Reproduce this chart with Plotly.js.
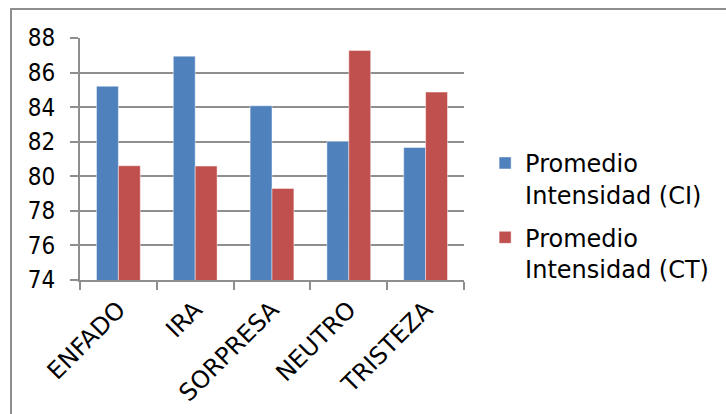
<!DOCTYPE html>
<html>
<head>
<meta charset="utf-8">
<script src="https://cdn.plot.ly/plotly-3.0.1.min.js"></script>
<style>
html,body{margin:0;padding:0;background:#fff;}
#wrap{position:relative;width:726px;height:414px;overflow:hidden;}
#frame{position:absolute;left:10px;top:8px;width:800px;height:500px;border-left:2px solid #8e8e8e;border-top:2px solid #8e8e8e;}
#chart{position:absolute;left:0;top:0;width:726px;height:414px;}
</style>
</head>
<body>
<div id="wrap"><div id="frame"></div><div id="chart"></div></div>
<script>
const categories = ["ENFADO", "IRA", "SORPRESA", "NEUTRO", "TRISTEZA"];
const seriesNames = ["Promedio<br>Intensidad (CI)", "Promedio<br>Intensidad (CT)"];
const valuesCI = [85.21, 86.95, 84.08, 82.02, 81.67];
const valuesCT = [80.61, 80.59, 79.30, 87.28, 84.87];
const yTicks = [74, 76, 78, 80, 82, 84, 86, 88];

const WIDE = "'DejaVu Sans', sans-serif";
const COND = "'DejaVu Sans Condensed', 'DejaVu Sans', sans-serif";
const traces = [
  {type: "bar", x: categories, y: valuesCI, name: seriesNames[0], legendgroup: "a",
   marker: {color: "#4F81BD", line: {color: "rgba(255,255,255,0.45)", width: 1}}},
  {type: "bar", x: categories, y: valuesCT, name: seriesNames[1], legendgroup: "b",
   marker: {color: "#C0504D", line: {color: "rgba(255,255,255,0.45)", width: 1}}}
];
const layout = {
  width: 726, height: 414,
  paper_bgcolor: "rgba(0,0,0,0)", plot_bgcolor: "rgba(0,0,0,0)",
  margin: {l: 80, r: 259, t: 38, b: 134},
  font: {family: WIDE, size: 24, color: "#000"},
  barmode: "group", bargap: 0.43, bargroupgap: 0,
  showlegend: true,
  legend: {x: 1.055, y: 0.575, xanchor: "left", yanchor: "top", valign: "top",
           tracegroupgap: 9, font: {family: WIDE, size: 24, color: "#000"}},
  xaxis: {type: "category", showline: true, linecolor: "#8e8e8e", linewidth: 2,
          ticks: "outside", tickson: "boundaries", ticklen: 8, tickcolor: "#8e8e8e", tickwidth: 2,
          tickangle: -45, showgrid: false, zeroline: false, ticklabelstandoff: 4,
          tickfont: {family: WIDE, size: 24}},
  yaxis: {range: [74, 88], tickvals: yTicks, ticktext: yTicks.map(String),
          showline: true, linecolor: "#8e8e8e", linewidth: 2,
          ticks: "outside", ticklen: 8, tickcolor: "#8e8e8e", tickwidth: 2,
          showgrid: true, gridcolor: "#8e8e8e", gridwidth: 2, zeroline: false,
          ticklabelstandoff: 10, tickfont: {family: COND, size: 24}}
};
Plotly.newPlot("chart", traces, layout, {displayModeBar: false, staticPlot: true});
</script>
</body>
</html>
